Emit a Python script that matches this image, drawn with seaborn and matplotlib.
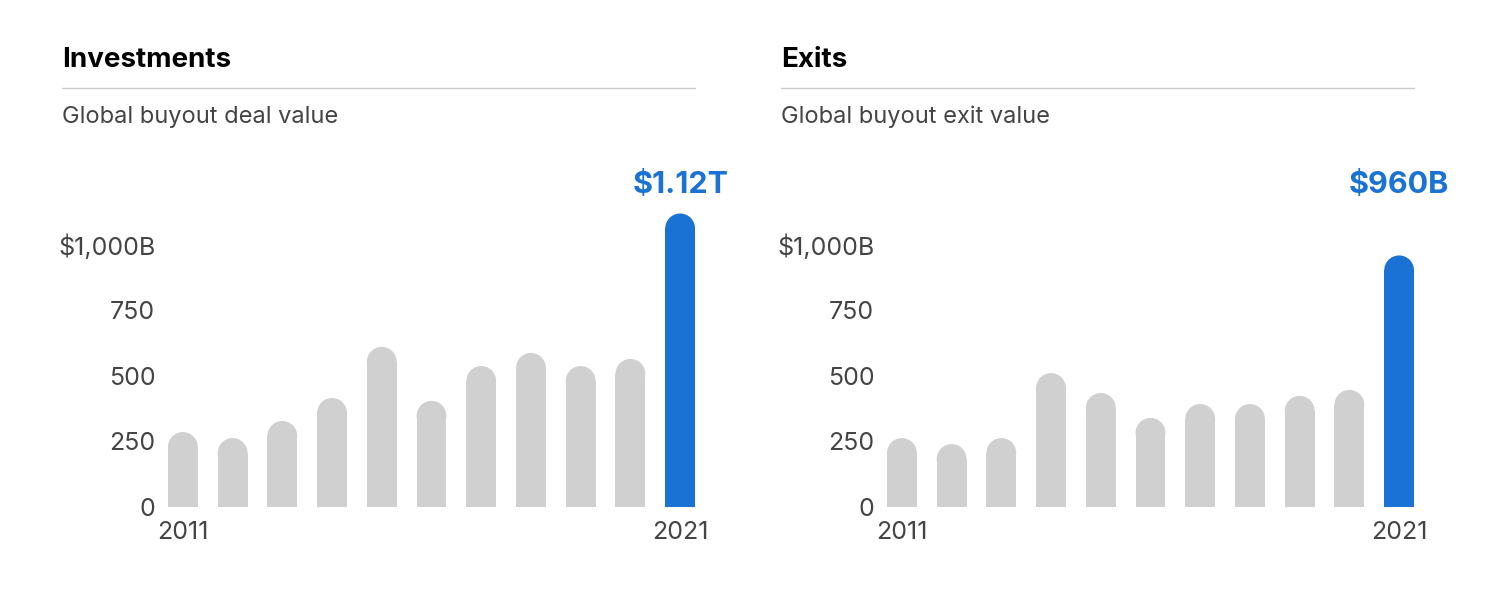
import matplotlib
matplotlib.use("Agg")
import matplotlib.pyplot as plt
from matplotlib.patches import Rectangle, Ellipse
import seaborn as sns
import pandas as pd

years = list(range(2011, 2022))
investments = [286, 263, 328, 416, 611, 405, 538, 588, 538, 565, 1120]
exits = [263, 240, 263, 511, 435, 340, 393, 393, 424, 447, 960]
yticks = [0, 250, 500, 750, 1000]
ytick_labels = ["0", "250", "500", "750", "$1,000B"]
panels = [
    ("Investments", "Global buyout deal value", investments, "$1.12T"),
    ("Exits", "Global buyout exit value", exits, "$960B"),
]

GRAY = "#d0d0d0"
BLUE = "#1a73d4"
TEXT = "#444444"

sns.set_theme(style="white")
plt.rcParams["font.family"] = ["Inter", "DejaVu Sans"]

fig = plt.figure(figsize=(14.98, 6), dpi=100)
lefts = [158 / 1498, 877 / 1498]
ymax = 1286

for left, (title, subtitle, values, label) in zip(lefts, panels):
    ax = fig.add_axes([left, 93 / 600, 547 / 1498, 337 / 600])
    df = pd.DataFrame({"year": [str(y) for y in years], "value": values})
    colors = [GRAY] * (len(values) - 1) + [BLUE]
    sns.barplot(data=df, x="year", y="value", hue="year", palette=colors,
                saturation=1, legend=False, width=0.6, ax=ax)
    ax.set_xlim(-0.5, 10.5)
    ax.set_ylim(0, ymax)

    # round tops: shorten each bar and cap it with a half ellipse
    px_x = 11 / 547
    px_y = ymax / 337
    for p in list(ax.patches):
        x, w, h, c = p.get_x(), p.get_width(), p.get_height(), p.get_facecolor()
        p.remove()
        ry = (w / 2) / px_x * px_y
        ax.add_patch(Rectangle((x, 0), w, h - ry, facecolor=c, edgecolor="none"))
        ax.add_patch(Ellipse((x + w / 2, h - ry), w, 2 * ry,
                             facecolor=c, edgecolor="none"))

    ax.set_yticks(yticks)
    ax.set_yticklabels(ytick_labels, fontsize=18, color=TEXT)
    ax.set_xticks([0, 10])
    ax.set_xticklabels([str(years[0]), str(years[-1])], fontsize=18, color=TEXT)
    ax.tick_params(axis="y", length=0, pad=2)
    ax.tick_params(axis="x", length=0, pad=10)
    ax.set_xlabel("")
    ax.set_ylabel("")
    sns.despine(ax=ax, left=True, bottom=True)
    fig.text(left + (10.5 / 11) * 547 / 1498, 1 - 185 / 600, label,
             ha="center", va="center", fontsize=22, fontweight="bold", color=BLUE)

    tx = left - 96 / 1498
    fig.text(tx, 1 - 60 / 600, title, fontsize=20, fontweight="bold",
             color="black", va="center")
    fig.text(tx, 1 - 117 / 600, subtitle, fontsize=17, color=TEXT, va="center")
    fig.add_artist(plt.Line2D([tx, tx + 633 / 1498], [1 - 88 / 600] * 2,
                              color="#cccccc", lw=1))

fig.savefig("out.png", dpi=100)
